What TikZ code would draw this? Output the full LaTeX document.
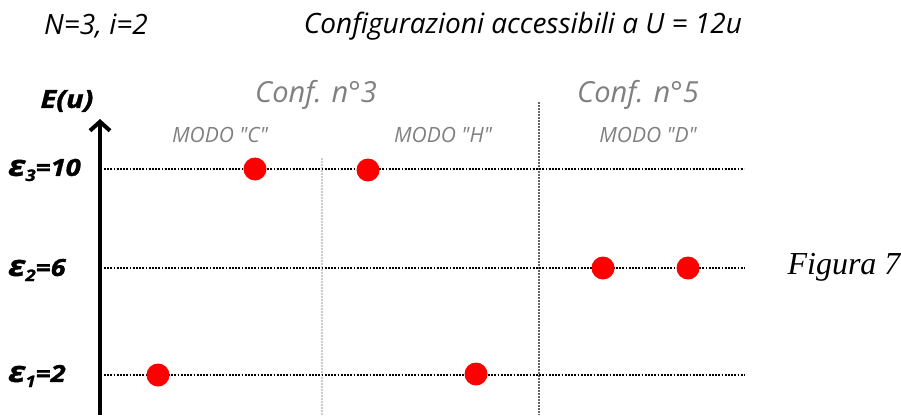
\documentclass[tikz,border=0pt]{standalone}
\usepackage{fontspec}
\usetikzlibrary{arrows.meta}
\setmainfont{Open Sans}
\newfontfamily\figfont{Liberation Serif}
\newfontfamily\lvlfont[FakeStretch=1.16,FakeBold=1.4]{Open Sans}
\begin{document}
\begin{tikzpicture}[x=1pt,y=-1pt,
  title/.style={font=\itshape\fontsize{28}{32}\selectfont, text=black, inner sep=0},
  conf/.style={font=\itshape\fontsize{29}{33}\selectfont, text=black!50, inner sep=0},
  modo/.style={font=\itshape\fontsize{21}{24}\selectfont, text=black!50, inner sep=0},
  lvl/.style={font=\lvlfont\bfseries\itshape\fontsize{23.5}{26}\selectfont, inner sep=0, anchor=west},
  level/.style={black, line width=2pt, dash pattern=on 1.8pt off 1.4pt},
  ball/.style={circle, fill=red, minimum size=23pt, inner sep=0},
  sep/.style={line width=1.8pt, dash pattern=on 1.6pt off 1.4pt}]
\useasboundingbox (0,0) rectangle (901,415);
\node[title] (n) at (96,26) {N=3, i=2};
\node[title] (t) at (523,26) {Configurazioni accessibili a U = 12u};
\node[lvl, anchor=center, font=\lvlfont\bfseries\itshape\fontsize{25}{28}\selectfont] (e) at (67,101) {E(u)};
\coordinate (atop) at (100,119);
\coordinate (abot) at (100,415);
\draw[line width=4.6pt, -{Straight Barb[length=9pt,width=20pt,line width=4pt]}] (abot) -- (atop);
\node[conf] (c3) at (316,95) {Conf. n°3};
\node[conf] (c5) at (638,95) {Conf. n°5};
\node[modo] (mc) at (220,135) {MODO \textquotedbl C\textquotedbl};
\node[modo] (mh) at (443,135) {MODO \textquotedbl H\textquotedbl};
\node[modo] (md) at (648,135) {MODO \textquotedbl D\textquotedbl};
\coordinate (s1t) at (322,158); \coordinate (s1b) at (322,415);
\coordinate (s2t) at (539,102); \coordinate (s2b) at (539,415);
\draw[sep, black!20] (s1t) -- (s1b);
\draw[sep, black!60] (s2t) -- (s2b);
\node[lvl] (l3) at (8,170) {{\fontsize{29}{29}\selectfont ε}\raisebox{-0.4ex}{\fontsize{16}{16}\selectfont 3}=10};
\node[lvl] (l2) at (8,270) {{\fontsize{29}{29}\selectfont ε}\raisebox{-0.4ex}{\fontsize{16}{16}\selectfont 2}=6};
\node[lvl] (l1) at (8,376) {{\fontsize{29}{29}\selectfont ε}\raisebox{-0.4ex}{\fontsize{16}{16}\selectfont 1}=2};
\coordinate (a3) at (104,169); \coordinate (b3) at (744,169);
\coordinate (a2) at (104,268); \coordinate (b2) at (745,268);
\coordinate (a1) at (104,375); \coordinate (b1) at (745,375);
\draw[level] (a3) -- (b3);
\draw[level] (a2) -- (b2);
\draw[level] (a1) -- (b1);
\node[ball] (p1) at (255,169) {};
\node[ball] (p2) at (368,170) {};
\node[ball] (p3) at (603,268) {};
\node[ball] (p4) at (688,268) {};
\node[ball] (p5) at (158,375) {};
\node[ball] (p6) at (476,374) {};
\node[font=\figfont\itshape\fontsize{32}{36}\selectfont, inner sep=0] (fig) at (844,267) {Figura 7};
\end{tikzpicture}
\end{document}
